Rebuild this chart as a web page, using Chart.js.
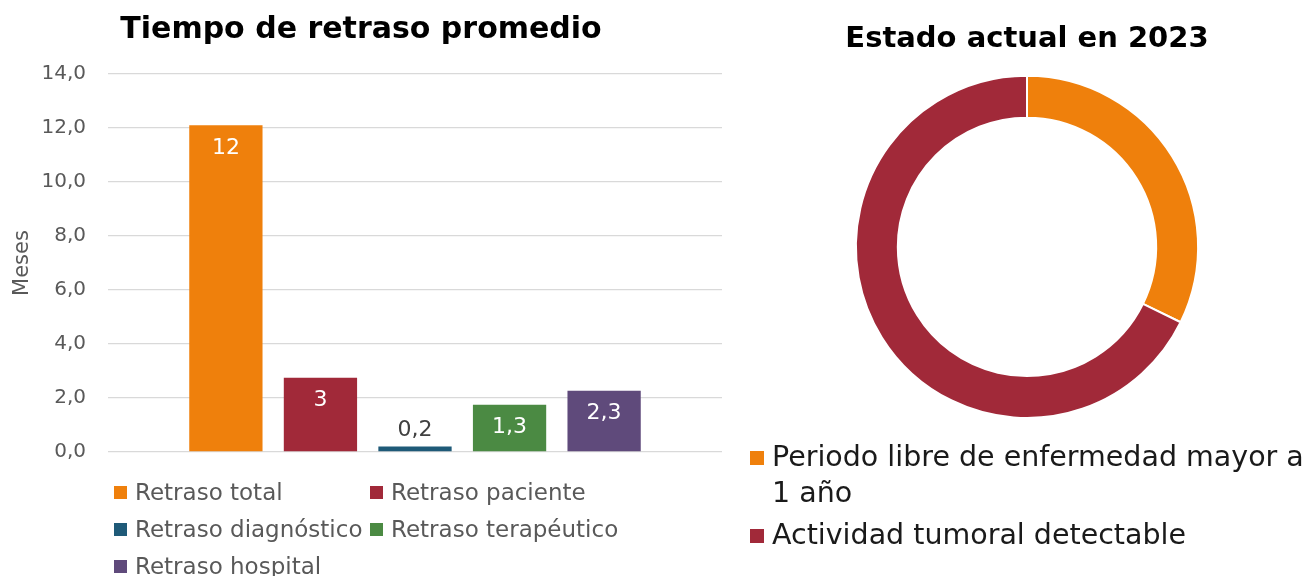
<!DOCTYPE html>
<html>
<head>
<meta charset="utf-8">
<script src="https://cdn.jsdelivr.net/npm/chart.js@4"></script>
<style>
  body { margin: 0; background: #fff; font-family: "DejaVu Sans", sans-serif; }
  #wrap { position: relative; width: 1314px; height: 576px; overflow: hidden; }
  #barBox { position: absolute; left: 0; top: 0; width: 730px; height: 576px; }
  #donutBox { position: absolute; left: 740px; top: 0; width: 574px; height: 576px; }
  #barLegend { position: absolute; left: 114px; top: 478px; display: grid;
    grid-template-columns: 256px 300px; row-gap: 9px; color: #595959; font-size: 23px; line-height: 28px; }
  #barLegend div, #donutLegend div { display: flex; align-items: center; white-space: nowrap; }
  #barLegend span.box { width: 13px; height: 13px; margin-right: 8px; flex: none; }
  #donutLegend { position: absolute; left: 750px; top: 439px; width: 564px; color: #1a1a1a; font-size: 28.5px; }
  #donutLegend div { align-items: flex-start; white-space: normal; line-height: 36px; margin-bottom: 6px; }
  #donutLegend span.box { width: 14px; height: 14px; margin: 12px 8px 0 0; flex: none; }
</style>
</head>
<body>
<div id="wrap">
  <div id="barBox"><canvas id="barChart"></canvas></div>
  <div id="donutBox"><canvas id="donutChart"></canvas></div>
  <div id="barLegend"></div>
  <div id="donutLegend"></div>
</div>
<script>
// left chart: average delay (months)
const delayNames = ["Retraso total", "Retraso paciente", "Retraso diagnóstico", "Retraso terapéutico", "Retraso hospital"];
const delayValues = [12.1, 2.75, 0.2, 1.75, 2.27];
const delayLabels = ["12", "3", "0,2", "1,3", "2,3"];
const delayColors = ["#EF800C", "#A12939", "#1F5A78", "#4B8A43", "#5F4A7B"];
const yTicks = [0, 2, 4, 6, 8, 10, 12, 14];

// right chart: status in 2023
const statusNames = ["Periodo libre de enfermedad mayor a 1 año", "Actividad tumoral detectable"];
const statusValues = [10, 21];
const statusColors = ["#EF800C", "#A12939"];

const barLabelPlugin = {
  id: "barLabels",
  afterDatasetsDraw(chart) {
    const ctx = chart.ctx;
    ctx.save();
    ctx.font = "22px 'DejaVu Sans'";
    ctx.textAlign = "center";
    ctx.textBaseline = "middle";
    chart.data.datasets.forEach((ds, i) => {
      const bar = chart.getDatasetMeta(i).data[0];
      const h = bar.base - bar.y;
      if (h > 35) {
        ctx.fillStyle = "#ffffff";
        ctx.fillText(delayLabels[i], bar.x, bar.y + 23);
      } else {
        ctx.fillStyle = "#404040";
        ctx.fillText(delayLabels[i], bar.x, bar.y - 16);
      }
    });
    ctx.restore();
  },
};

new Chart(document.getElementById("barChart"), {
  type: "bar",
  data: {
    labels: [""],
    datasets: delayNames.map((name, i) => ({
      label: name,
      data: [delayValues[i]],
      backgroundColor: delayColors[i],
      categoryPercentage: 0.77,
      barPercentage: 0.775,
    })),
  },
  options: {
    responsive: true,
    maintainAspectRatio: false,
    animation: false,
    layout: { padding: { top: 0, right: 8, bottom: 116, left: 0 } },
    plugins: {
      legend: { display: false },
      tooltip: { enabled: false },
      title: {
        display: true,
        text: "Tiempo de retraso promedio",
        color: "#000000",
        font: { family: "DejaVu Sans", size: 30, weight: "bold" },
        padding: { top: 12, bottom: 26 },
      },
    },
    scales: {
      x: {
        ticks: { display: false },
        grid: { display: false },
        border: { display: false },
      },
      y: {
        min: 0,
        max: 14,
        afterBuildTicks(scale) { scale.ticks = yTicks.map(v => ({ value: v })); },
        afterFit(scale) { scale.width = 108; },
        ticks: {
          color: "#595959",
          padding: 22,
          font: { family: "DejaVu Sans", size: 20 },
          callback: v => v.toFixed(1).replace(".", ","),
        },
        grid: { color: "#D9D9D9", lineWidth: 1.3, drawTicks: false },
        border: { display: false },
        title: {
          display: true,
          text: "Meses",
          color: "#595959",
          font: { family: "DejaVu Sans", size: 21 },
          padding: { top: 10, bottom: 0 },
        },
      },
    },
  },
  plugins: [barLabelPlugin],
});

new Chart(document.getElementById("donutChart"), {
  type: "doughnut",
  data: {
    labels: statusNames,
    datasets: [{
      data: statusValues,
      backgroundColor: statusColors,
      borderColor: "#ffffff",
      borderWidth: 2,
    }],
  },
  options: {
    responsive: true,
    maintainAspectRatio: false,
    animation: false,
    cutout: "75.5%",
    layout: { padding: { top: 0, right: 0, bottom: 157, left: 0 } },
    plugins: {
      legend: { display: false },
      tooltip: { enabled: false },
      title: {
        display: true,
        text: "Estado actual en 2023",
        color: "#000000",
        font: { family: "DejaVu Sans", size: 29, weight: "bold" },
        padding: { top: 22, bottom: 18 },
      },
    },
  },
});

// legends as html, built from the same arrays
document.getElementById("barLegend").innerHTML = delayNames
  .map((n, i) => `<div><span class="box" style="background:${delayColors[i]}"></span>${n}</div>`)
  .join("");
document.getElementById("donutLegend").innerHTML = statusNames
  .map((n, i) => `<div><span class="box" style="background:${statusColors[i]}"></span><span>${n}</span></div>`)
  .join("");
</script>
</body>
</html>
